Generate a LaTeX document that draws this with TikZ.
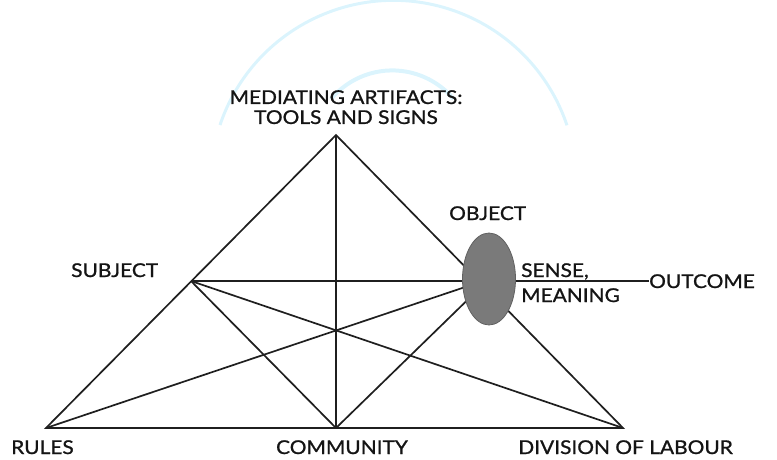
\documentclass[tikz,border=0pt]{standalone}
\usepackage{fontspec}
\setmainfont{Lato}
\newfontfamily\lblfont{Lato}[FakeStretch=1.1, FakeBold=1.0]
\usetikzlibrary{shapes.geometric}
\begin{document}
\begin{tikzpicture}[x=1pt,y=-1pt,
  edge/.style={line width=1.7pt, black!88},
  lbl/.style={font=\lblfont\fontsize{19}{20}\selectfont, inner sep=0pt, text=black!92},
  objshape/.style={ellipse, fill=black!52, draw=black!62, line width=0.8pt, minimum width=53pt, minimum height=92pt, inner sep=0pt}]
\useasboundingbox (0,0) rectangle (777,459);
% faint watermark
\draw[cyan!14, line width=3pt] (220,125) arc[start angle=198.6, end angle=341.5, radius=183];
\draw[cyan!14, line width=4pt] (331,99) arc[start angle=220, end angle=320, radius=80];
% vertices
\coordinate (A) at (336,135);
\coordinate (R) at (46,428);
\coordinate (C) at (336,428);
\coordinate (D) at (623,428);
\coordinate (S) at (191,281);
\coordinate (Oc) at (489,279);
% lines
\draw[edge] (R) -- (A) -- (D) -- cycle;
\draw[edge] (A) -- (C);
\draw[edge] (S) -- (C);
\draw[edge] (S) -- (D);
\draw[edge] (S) -- (S -| Oc);
\draw[edge] (R) -- (Oc);
\draw[edge] (C) -- (Oc);
\node[objshape] (O) at (Oc) {};
% labels
\node[lbl, align=center, anchor=north] (med) at (346,90) {MEDIATING ARTIFACTS:\\TOOLS AND SIGNS};
\node[lbl, anchor=base west] (subj) at (71,277) {SUBJECT};
\node[lbl, anchor=base west] (obj) at (449,220) {OBJECT};
\node[lbl, anchor=base west] (sense) at (521,277) {SENSE,};
\node[lbl, anchor=base west] (mean) at (521,302) {MEANING};
\node[lbl, anchor=base west] (out) at (649,288) {OUTCOME};
\node[lbl, anchor=base west] (rules) at (11,454) {RULES};
\node[lbl, anchor=base] (comm) at (342,454) {COMMUNITY};
\node[lbl, anchor=base east] (div) at (733,454) {DIVISION OF LABOUR};
\draw[edge] (O.east |- S) -- (S -| out.west);
\end{tikzpicture}
\end{document}
